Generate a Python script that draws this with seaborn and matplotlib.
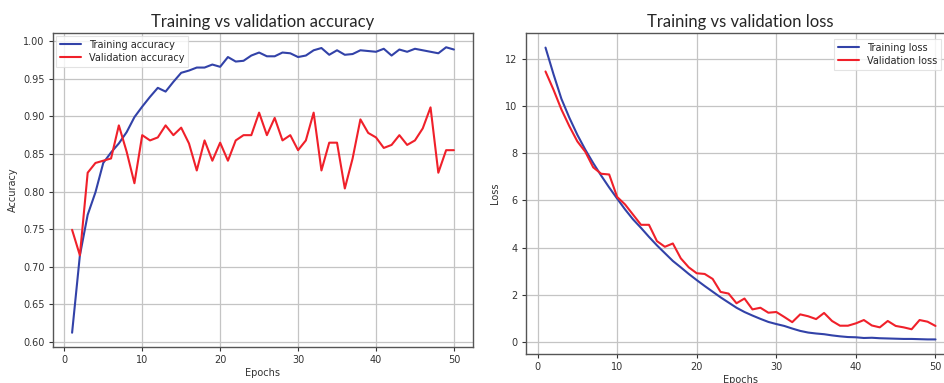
import numpy as np
import pandas as pd
import matplotlib
matplotlib.use("Agg")
import matplotlib.pyplot as plt
import seaborn as sns

epochs = list(range(1, 51))

train_acc = [0.612, 0.715, 0.769, 0.799, 0.838, 0.852, 0.864, 0.879, 0.899, 0.913,
             0.926, 0.938, 0.933, 0.946, 0.958, 0.961, 0.965, 0.965, 0.969, 0.966,
             0.979, 0.973, 0.974, 0.981, 0.985, 0.980, 0.980, 0.985, 0.984, 0.979,
             0.981, 0.988, 0.991, 0.982, 0.988, 0.982, 0.983, 0.988, 0.987, 0.986,
             0.990, 0.981, 0.989, 0.986, 0.990, 0.988, 0.986, 0.984, 0.992, 0.989]
val_acc = [0.749, 0.715, 0.825, 0.838, 0.841, 0.844, 0.888, 0.853, 0.811, 0.875,
           0.868, 0.872, 0.888, 0.875, 0.885, 0.864, 0.828, 0.868, 0.841, 0.865,
           0.841, 0.868, 0.875, 0.875, 0.905, 0.875, 0.898, 0.868, 0.875, 0.855,
           0.868, 0.905, 0.828, 0.865, 0.865, 0.804, 0.844, 0.896, 0.878, 0.872,
           0.858, 0.862, 0.875, 0.862, 0.868, 0.884, 0.912, 0.825, 0.855, 0.855]

train_loss = [12.47, 11.35, 10.30, 9.50, 8.78, 8.15, 7.58, 7.05, 6.55, 6.08,
              5.62, 5.20, 4.84, 4.46, 4.10, 3.77, 3.44, 3.17, 2.89, 2.63,
              2.38, 2.14, 1.90, 1.68, 1.46, 1.28, 1.13, 0.99, 0.86, 0.77,
              0.69, 0.58, 0.48, 0.41, 0.37, 0.34, 0.29, 0.25, 0.22, 0.21,
              0.18, 0.19, 0.17, 0.16, 0.15, 0.14, 0.14, 0.13, 0.12, 0.12]
val_loss = [11.46, 10.69, 9.85, 9.14, 8.50, 8.06, 7.40, 7.13, 7.10, 6.15,
            5.83, 5.40, 4.97, 4.97, 4.28, 4.04, 4.18, 3.55, 3.17, 2.92,
            2.89, 2.68, 2.13, 2.06, 1.65, 1.85, 1.39, 1.46, 1.25, 1.28,
            1.07, 0.85, 1.18, 1.10, 0.98, 1.24, 0.90, 0.70, 0.70, 0.80,
            0.94, 0.71, 0.63, 0.90, 0.69, 0.63, 0.55, 0.94, 0.87, 0.69]

acc_df = pd.DataFrame({"Epochs": epochs, "train": train_acc, "val": val_acc})
loss_df = pd.DataFrame({"Epochs": epochs, "train": train_loss, "val": val_loss})

sns.set_theme(style="ticks")
plt.rcParams["font.family"] = ["DejaVu Sans"]

BLUE = "#3242a8"
RED = "#f0202a"

fig = plt.figure(figsize=(9.44, 3.83), dpi=100)
ax1 = fig.add_axes([53 / 944, 1 - 347 / 383, 420 / 944, 314 / 383])
ax2 = fig.add_axes([526 / 944, 1 - 354 / 383, 429 / 944, 321 / 383])


def style(ax):
    ax.grid(True, color="#c4c4c4", linewidth=0.9)
    ax.set_axisbelow(True)
    for s in ax.spines.values():
        s.set_color("#555555")
        s.set_linewidth(1.0)
    ax.tick_params(axis="both", labelsize=7, colors="#333333", length=3, width=0.8,
                   direction="out", pad=3)
    ax.margins(x=0.05, y=0.05)


sns.lineplot(data=acc_df, x="Epochs", y="train", ax=ax1, color=BLUE, lw=1.5,
             label="Training accuracy")
sns.lineplot(data=acc_df, x="Epochs", y="val", ax=ax1, color=RED, lw=1.5,
             label="Validation accuracy")
style(ax1)
ax1.set_title("Training vs validation accuracy", fontsize=12, family="Lato", pad=4)
ax1.set_xlabel("Epochs", fontsize=7, color="#333333", labelpad=2)
ax1.set_ylabel("Accuracy", fontsize=7, color="#333333", labelpad=4)
ax1.set_xticks([0, 10, 20, 30, 40, 50])
ax1.set_yticks([0.60, 0.65, 0.70, 0.75, 0.80, 0.85, 0.90, 0.95, 1.00])
ax1.set_yticklabels(["0.60", "0.65", "0.70", "0.75", "0.80", "0.85", "0.90", "0.95", "1.00"])
leg1 = ax1.legend(loc="upper left", fontsize=7, frameon=True, borderaxespad=0.3,
                  handlelength=2.2, labelspacing=0.3, fancybox=False)
leg1.get_frame().set_edgecolor("#dddddd")
leg1.get_frame().set_linewidth(0.8)

sns.lineplot(data=loss_df, x="Epochs", y="train", ax=ax2, color=BLUE, lw=1.5,
             label="Training loss")
sns.lineplot(data=loss_df, x="Epochs", y="val", ax=ax2, color=RED, lw=1.5,
             label="Validation loss")
style(ax2)
ax2.set_title("Training vs validation loss", fontsize=12, family="Lato", pad=4)
ax2.set_xlabel("Epochs", fontsize=7, color="#333333", labelpad=2)
ax2.set_ylabel("Loss", fontsize=7, color="#333333", labelpad=4)
ax2.set_xticks([0, 10, 20, 30, 40, 50])
ax2.set_yticks([0, 2, 4, 6, 8, 10, 12])
leg2 = ax2.legend(loc="upper right", fontsize=7, frameon=True, borderaxespad=0.3,
                  handlelength=2.2, labelspacing=0.3, fancybox=False)
leg2.set_bbox_to_anchor((1.0, 1 - 36 / 383), transform=fig.transFigure)
leg2.get_frame().set_edgecolor("#dddddd")
leg2.get_frame().set_linewidth(0.8)

fig.savefig("out.png", dpi=100)
